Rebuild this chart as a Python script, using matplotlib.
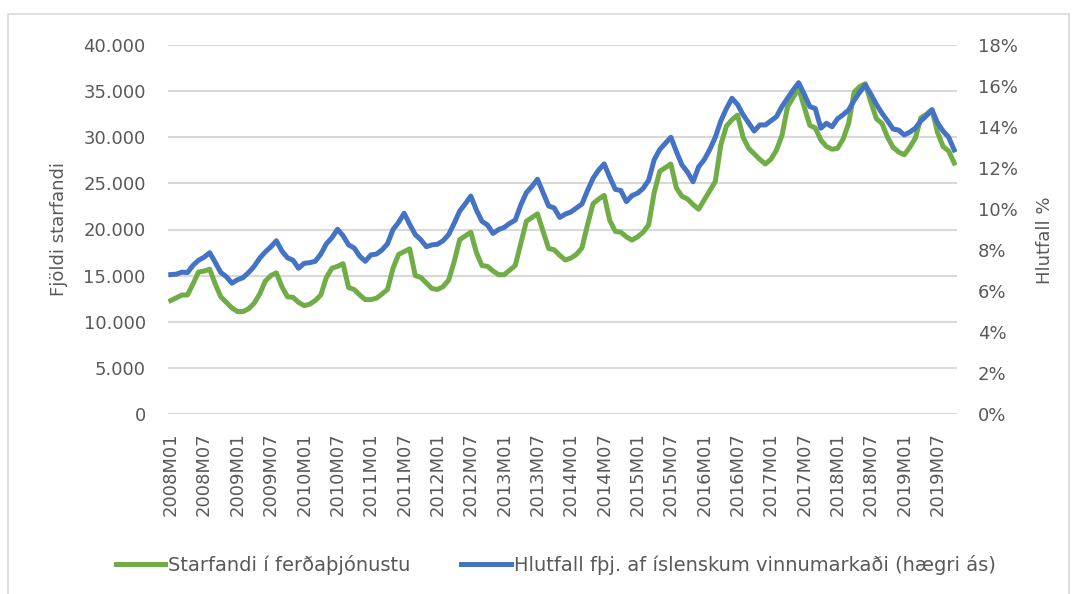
import matplotlib
matplotlib.use("Agg")
import matplotlib.pyplot as plt
from matplotlib.patches import Rectangle
from matplotlib.ticker import FuncFormatter, MultipleLocator

# Monthly series, 2008M01 - 2019M10
years = list(range(2008, 2020))
months = [f"{y}M{m:02d}" for y in years for m in range(1, 13)][:142]

# Starfandi í ferðaþjónustu (left axis)
starfandi = [
    12300, 12600, 12900, 12900, 14100, 15400, 15500, 15700, 14100, 12700, 12100, 11500,  # 2008
    11100, 11100, 11400, 12000, 13000, 14400, 15000, 15300, 13800, 12700, 12650, 12100,  # 2009
    11750, 11900, 12300, 12900, 14800, 15800, 16000, 16300, 13700, 13500, 12900, 12400,  # 2010
    12400, 12550, 13000, 13500, 15800, 17300, 17600, 17900, 15000, 14800, 14200, 13600,  # 2011
    13500, 13800, 14500, 16500, 18900, 19300, 19700, 17500, 16100, 16000, 15500, 15100,  # 2012
    15100, 15600, 16100, 18500, 20900, 21300, 21700, 19800, 17950, 17800, 17200, 16700,  # 2013
    16900, 17300, 18000, 20500, 22800, 23300, 23700, 21000, 19800, 19700, 19200, 18850,  # 2014
    19200, 19700, 20500, 24000, 26300, 26700, 27100, 24500, 23600, 23300, 22700, 22200,  # 2015
    23200, 24200, 25200, 29200, 31200, 31900, 32400, 30000, 28800, 28200, 27600, 27100,  # 2016
    27600, 28600, 30200, 33300, 34300, 35300, 33300, 31300, 31000, 29700, 29000, 28700,  # 2017
    28800, 29800, 31500, 34900, 35500, 35800, 33800, 32000, 31500, 30000, 28900, 28400,  # 2018
    28100, 28900, 29900, 32100, 32500, 33000, 30500, 29000, 28500, 27200,  # 2019
]

# Hlutfall fþj. af íslenskum vinnumarkaði, % (right axis)
hlutfall = [
    6.80, 6.82, 6.92, 6.90, 7.25, 7.50, 7.65, 7.87, 7.40, 6.90, 6.70, 6.38,  # 2008
    6.55, 6.65, 6.90, 7.20, 7.60, 7.90, 8.15, 8.45, 7.95, 7.62, 7.50, 7.11,  # 2009
    7.35, 7.38, 7.45, 7.80, 8.30, 8.60, 9.01, 8.70, 8.25, 8.10, 7.70, 7.45,  # 2010
    7.76, 7.80, 8.00, 8.30, 9.00, 9.35, 9.79, 9.25, 8.75, 8.50, 8.16, 8.25,  # 2011
    8.28, 8.45, 8.75, 9.30, 9.90, 10.25, 10.63, 9.95, 9.40, 9.22, 8.81, 9.00,  # 2012
    9.10, 9.30, 9.46, 10.20, 10.80, 11.10, 11.45, 10.80, 10.15, 10.05, 9.59, 9.75,  # 2013
    9.85, 10.05, 10.24, 10.90, 11.50, 11.90, 12.20, 11.55, 10.96, 10.90, 10.36, 10.65,  # 2014
    10.77, 11.00, 11.40, 12.40, 12.90, 13.20, 13.50, 12.80, 12.15, 11.80, 11.33, 12.06,  # 2015
    12.40, 12.90, 13.50, 14.30, 14.90, 15.40, 15.10, 14.60, 14.20, 13.80, 14.10, 14.10,  # 2016
    14.30, 14.50, 15.00, 15.40, 15.80, 16.16, 15.60, 15.00, 14.90, 13.94, 14.18, 14.01,  # 2017
    14.40, 14.60, 14.83, 15.30, 15.70, 16.05, 15.60, 15.10, 14.67, 14.30, 13.90, 13.85,  # 2018
    13.61, 13.75, 13.94, 14.30, 14.55, 14.83, 14.20, 13.80, 13.50, 12.88,  # 2019
]

green = "#70AD47"
blue = "#4472C4"
grid_col = "#D9D9D9"
text_col = "#595959"

plt.rcParams["font.family"] = ["DejaVu Sans"]
plt.rcParams["font.size"] = 13

fig = plt.figure(figsize=(10.77, 5.94), dpi=100)
ax = fig.add_axes([168 / 1077, 1 - 414 / 594, 789 / 1077, 369 / 594])
ax2 = ax.twinx()

x = list(range(len(months)))
l1, = ax.plot(x, starfandi, color=green, lw=3.6, solid_joinstyle="round",
              label="Starfandi í ferðaþjónustu", zorder=3)
l2, = ax2.plot(x, hlutfall, color=blue, lw=3.6, solid_joinstyle="round",
               label="Hlutfall fþj. af íslenskum vinnumarkaði (hægri ás)", zorder=3)

ax.set_xlim(-0.5, len(months) - 0.5)
ax.set_ylim(0, 40000)
ax2.set_ylim(0, 18)
ax.yaxis.set_major_locator(MultipleLocator(5000))
ax2.yaxis.set_major_locator(MultipleLocator(2))
ax.yaxis.set_major_formatter(FuncFormatter(lambda v, p: f"{int(v):,}".replace(",", ".")))
ax2.yaxis.set_major_formatter(FuncFormatter(lambda v, p: f"{v:.0f}%"))

ax.set_xticks(x[::6])
ax.set_xticklabels(months[::6], rotation=90)

ax.grid(axis="y", color=grid_col, lw=1.5, zorder=0)
ax.set_axisbelow(True)
for a in (ax, ax2):
    for s in a.spines.values():
        s.set_visible(False)
ax.tick_params(axis="y", length=0, pad=16, colors=text_col, labelsize=13)
ax.tick_params(axis="x", length=0, pad=13, colors=text_col, labelsize=13)
ax2.tick_params(axis="y", length=0, pad=15, colors=text_col, labelsize=13)

ax.set_ylabel("Fjöldi starfandi", color=text_col, fontsize=13)
ax.yaxis.set_label_coords(-0.127, 0.5)
ax2.set_ylabel("Hlutfall %", color=text_col, fontsize=13)
ax2.yaxis.set_label_coords(1.10, 0.47)

fig.legend(handles=[l1, l2], loc="center", bbox_to_anchor=(0.516, 1 - 565 / 594),
           ncol=2, frameon=False, fontsize=14, handlelength=2.55, handletextpad=0.15,
           columnspacing=2.6, labelcolor=text_col)

# chart border
fig.patches.append(Rectangle((8 / 1077, -0.05), 1061 / 1077, 1.05 - 14 / 594,
                             transform=fig.transFigure, fill=False,
                             edgecolor=grid_col, lw=1.2))

fig.savefig("out.png", dpi=100)
